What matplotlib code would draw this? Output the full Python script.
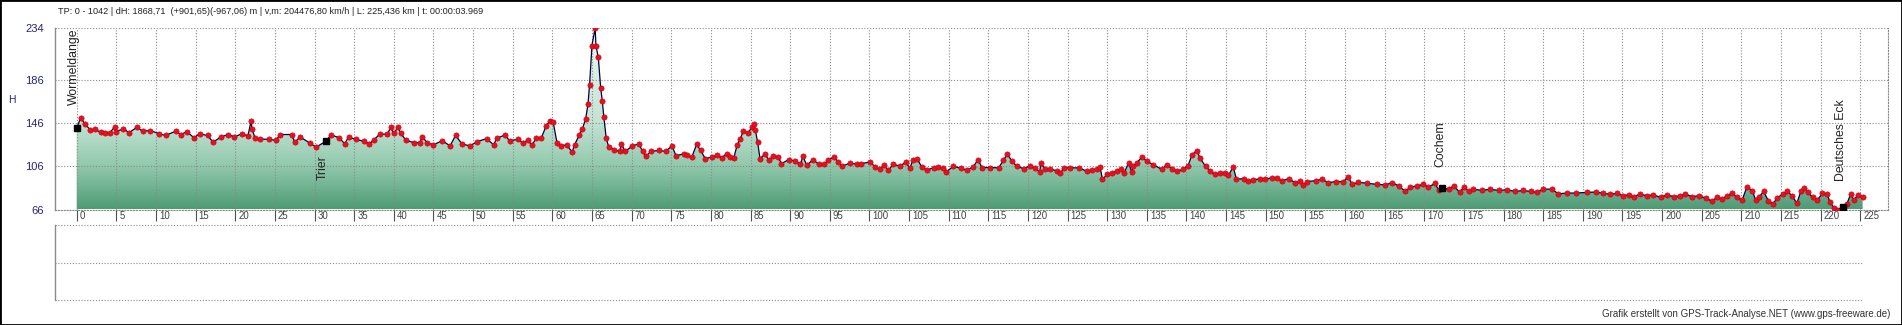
import numpy as np
import matplotlib
matplotlib.use("Agg")
import matplotlib.pyplot as plt
from matplotlib.colors import LinearSegmentedColormap
from matplotlib.patches import Polygon, Rectangle
import matplotlib.transforms as mtrans

plt.rcParams['font.family'] = ['Liberation Sans', 'DejaVu Sans']

km = [0, 0.5, 1.06, 1.7, 2.3, 3.0, 3.6, 4.2, 4.8, 4.9, 5.9, 6.6, 7.6, 8.3, 9.3, 10.4, 11.2, 12.5, 13.1, 13.9,
      14.8, 15.5, 16.5, 17.2, 18.2, 19.1, 19.9, 20.8, 21.6, 22.0, 22.1, 22.5, 23.1, 24.2, 25.2, 25.6, 27.1, 27.5,
      28.2, 29.4, 30.2, 31.4, 32.1, 33.1, 33.8, 34.3, 35.2, 36.2, 36.9, 37.5, 38.2, 39.2, 39.6, 40.0, 40.5, 40.9,
      41.5, 42.5, 43.3, 43.6, 44.2, 45.0, 46.1, 47.1, 47.8, 48.6, 49.6, 50.5, 51.7, 52.6, 53.0, 54.0, 54.6, 55.7,
      56.3, 56.9, 57.4, 58.0, 58.6, 59.2, 59.7, 60.1, 60.6, 61.1, 61.8, 62.5, 62.8, 63.4, 63.8, 64.2, 64.5, 64.7,
      65.0, 65.4, 65.5, 65.8, 66.1, 66.3, 66.5, 66.8, 67.1, 67.8, 68.5, 68.7, 69.2, 70.1, 70.9, 71.4, 71.8, 72.4,
      73.5, 74.3, 75.1, 75.6, 76.6, 77.0, 77.6, 78.2, 78.7, 79.3, 80.1, 80.8, 81.4, 82.0, 82.4, 82.9, 83.3, 83.7,
      84.1, 84.7, 85.2, 85.4, 85.6, 85.9, 86.2, 86.8, 87.3, 87.9, 88.5, 88.9, 89.8, 90.6, 91.3, 91.6, 92.1, 92.9,
      93.6, 94.3, 94.8, 95.5, 96.1, 96.5, 97.6, 98.4, 99.0, 100.1, 100.7, 101.3, 101.8, 102.4, 103.0, 103.9, 104.6,
      105.1, 105.5, 106.0, 106.6, 107.3, 108.1, 108.7, 109.3, 109.7, 110.6, 111.6, 112.3, 113.1, 113.7, 114.2,
      115.2, 116.3, 116.9, 117.4, 118.0, 118.6, 119.5, 120.3, 120.9, 121.5, 121.6, 122.2, 122.8, 123.7, 124.1,
      124.5, 125.3, 126.4, 127.4, 128.1, 128.7, 129.1, 129.4, 130.0, 130.6, 131.2, 131.8, 132.1, 132.7, 133.1,
      133.3, 133.7, 134.4, 135.0, 135.8, 136.9, 137.5, 138.2, 138.8, 139.6, 140.2, 140.7, 141.3, 141.7, 142.4,
      143.0, 143.6, 144.2, 144.9, 145.3, 145.9, 146.3, 147.2, 147.8, 148.4, 149.3, 149.9, 150.8, 151.4, 152.0,
      152.9, 153.7, 154.3, 154.7, 155.2, 156.3, 157.1, 157.9, 158.8, 159.8, 160.4, 160.9, 161.7, 162.8, 164.0,
      165.1, 165.9, 166.8, 167.6, 168.2, 169.1, 169.9, 170.5, 171.4, 171.8, 172.2, 173.1, 173.7, 174.5, 175.0,
      175.6, 176.2, 177.3, 178.3, 179.4, 180.4, 181.5, 182.5, 183.4, 184.2, 185.0, 186.1, 186.9, 188.0, 189.2,
      190.5, 191.7, 192.6, 193.4, 194.3, 195.1, 195.8, 196.4, 197.2, 198.1, 198.9, 199.8, 200.6, 201.5, 202.3,
      202.9, 203.8, 204.6, 205.5, 206.3, 206.9, 207.6, 208.2, 208.8, 209.5, 210.1, 210.7, 211.4, 211.8, 212.2,
      212.8, 213.4, 214.0, 214.5, 215.2, 215.8, 216.4, 217.0, 217.5, 217.9, 218.4, 219.0, 219.6, 220.2, 220.8,
      221.2, 221.7, 222.1, 222.8, 223.3, 223.8, 224.2, 224.7, 225.3]
hoehe = [141.4, 150.6, 145, 139.6, 140, 137.5, 136.5, 137, 142.6, 138, 140.5, 137, 142, 138.4, 139, 136, 134.4, 138.4,
         135.3, 137.8, 132.3, 136, 134.4, 128.3, 133, 135.3, 133, 136, 134, 148, 140.5, 132, 131.3, 130.7, 130, 135.3,
         135.3, 128.3, 133, 127.4, 123.7, 128.9, 135, 132.3, 126.8, 133, 130.7, 129.2, 126.8, 130.4, 135.5, 135.7,
         141.8, 136.3, 141.8, 136.3, 130.2, 127.8, 127.9, 133.3, 127.8, 125.7, 129.6, 124.8, 134.5, 126.6, 124.8,
         128.7, 131.5, 125.8, 131.8, 134.8, 129.6, 130.8, 127.2, 130.2, 125.7, 131.8, 131.8, 143, 147.8, 146.9, 127.2,
         124.8, 125.8, 119, 125.8, 134.8, 140.8, 149.6, 163.4, 181.5, 217.5, 234, 217.5, 206.5, 178.5, 166.4, 151.4,
         131.8, 124.2, 121.2, 119.7, 126.3, 119.7, 124.8, 126.6, 119.7, 115, 119.7, 120.6, 119.7, 124.8, 115.7, 117.5,
         116, 114.5, 126.2, 120.7, 113, 114.5, 116, 114, 117.6, 114.5, 114, 125.2, 131.3, 138.4, 136.5, 142.6, 145,
         139.6, 128.3, 113, 117, 112.1, 115.2, 114.5, 108.4, 112.1, 110.9, 107.8, 115.2, 106.9, 112.1, 107.8, 107.8,
         111.5, 114.5, 110, 106, 109, 107.8, 108.4, 110, 105.4, 103, 106.9, 102.3, 107.8, 106, 110, 103.9, 112.1, 113,
         105.4, 102.3, 104.8, 105.4, 103.9, 100.8, 106, 103.9, 102.3, 105.4, 112.1, 104.8, 104.8, 104.5, 111.5, 117.2,
         110.5, 106, 103.6, 106.6, 104.5, 100.5, 109, 103, 103.6, 101.5, 99.3, 104.5, 104.5, 104.5, 101.5, 102.4, 103,
         105.4, 94, 98.4, 100, 101.5, 103.6, 99.3, 109, 100.5, 106, 109, 114.5, 110.5, 107.5, 103, 107.5, 103.6, 101.5,
         103, 106.6, 116.6, 120.5, 113.6, 106, 101.5, 98.4, 99.3, 100, 97.5, 105.4, 94, 94.5, 92.4, 93.3, 94.5, 94,
         95.4, 95.4, 92.4, 94.5, 90.8, 92.4, 88.4, 91.8, 92.7, 93.9, 90.8, 91.8, 91.8, 96.3, 89.3, 91.2, 90.2, 89.3,
         88.7, 90.8, 87.8, 82.7, 86.6, 87.8, 89.3, 86.6, 90.2, 83.6, 85.7, 84.8, 87.8, 81.8, 87.2, 82.7, 84.8, 83.6,
         84.8, 83.6, 84.2, 82.7, 83.6, 82.7, 81.8, 84.8, 84.8, 80.5, 81.2, 81.2, 81.8, 82.2, 80.8, 80.2, 80.8, 78.7,
         79.6, 77.8, 80.2, 78.7, 79.6, 77.2, 79.6, 77.8, 78.7, 80.2, 77.8, 78.7, 76.6, 73.6, 77.2, 75.7, 78.7, 80.8,
         77.2, 74.8, 86.9, 83.3, 74.8, 77.2, 82.7, 74.2, 71.2, 76.6, 80.2, 82.7, 78.7, 71.8, 82.7, 86.3, 81.8, 77.2,
         74.8, 80.8, 80.2, 72.7, 67.5, 65.7, 68.7, 71.2, 80.2, 74.8, 79.6, 77.8]

orte = ["Wormeldange", "Trier", "Cochem", "Deutsches Eck"]
orte_km = [0, 31.4, 172.2, 222.8]
orte_h = [141.4, 128.9, 85.7, 68.7]

y_ticks = [66, 106, 146, 186, 234]
x_ticks = list(range(0, 226, 5))

titel = "TP: 0 - 1042 | dH: 1868,71  (+901,65)(-967,06) m | v,m: 204476,80 km/h | L: 225,436 km | t: 00:00:03.969"
credit = "Grafik erstellt von GPS-Track-Analyse.NET (www.gps-freeware.de)"

W, H = 1902, 325
navy = '#23237a'
grau = '#8a8a8a'
dots = (0, (1, 1.6))

fig = plt.figure(figsize=(W / 100, H / 100), dpi=100)
fig.patch.set_facecolor('white')

# --- Hoehenprofil ---
ax = fig.add_axes([55 / W, (H - 209.5) / H, (1888 - 55) / W, (209.5 - 27.7) / H])
ax.set_xlim(-2.74, 228.5)
ax.set_ylim(66, 234)

cmap = LinearSegmentedColormap.from_list('gr', [(0, '#4e9c75'), (40 / 168, '#92c9ad'),
                                                (80 / 168, '#c3e3d3'), (1, '#eef8f3')])
grad = np.linspace(0, 1, 256).reshape(-1, 1)
verts = np.vstack([[km[0], 66], np.column_stack([km, hoehe]), [km[-1], 66]])
flaeche = Polygon(verts, closed=True, facecolor='none', edgecolor='none')
ax.add_patch(flaeche)
im = ax.imshow(grad, extent=[-2.74, 228.5, 66, 234], aspect='auto', cmap=cmap,
               origin='lower', zorder=1, interpolation='bicubic')
im.set_clip_path(flaeche)

ax.plot(km, hoehe, color='#00003c', lw=0.9, zorder=3)
ax.plot(km, hoehe, ls='none', marker='o', ms=3.8, mfc='#e8101e', mec='#c0000f', mew=0.4, zorder=4)
ax.plot(orte_km, orte_h, ls='none', marker='s', ms=5, color='black', zorder=5)

# Ortsnamen (Oberkante in Datenkoordinaten)
name_x = [-0.3, 31.1, 172.0, 222.6]
name_top = [233, 116.4, 148, 168]
for n, x, y in zip(orte, name_x, name_top):
    ax.text(x, y, n, rotation=90, ha='center', va='top', fontsize=8.8, color='#222222', zorder=6)

ax.set_xticks(x_ticks)
ax.set_yticks(y_ticks)
ax.set_xticklabels([str(t) for t in x_ticks])
ax.set_axisbelow(False)
ax.grid(True, color=grau, ls=dots, lw=0.8)
for s in ['top', 'right', 'bottom']:
    ax.spines[s].set_color(grau)
    ax.spines[s].set_linestyle(dots)
    ax.spines[s].set_linewidth(0.8)
ax.spines['top'].set_visible(False)
ax.spines['left'].set_color(grau)
ax.spines['left'].set_linewidth(1.0)

ax.tick_params(axis='x', direction='out', length=8, width=0.8, color='#505050',
               labelsize=6.9, labelcolor='#404040', pad=-7)
off = mtrans.ScaledTranslation(3 / 100, 0, fig.dpi_scale_trans)
for lab in ax.get_xticklabels():
    lab.set_horizontalalignment('left')
    lab.set_transform(lab.get_transform() + off)
ax.tick_params(axis='y', length=0, pad=8, labelsize=8, labelcolor=navy)

# --- leeres unteres Feld ---
ax2 = fig.add_axes([55 / W, 25 / H, 1807 / W, 75 / H])
ax2.set_xlim(0, 1)
ax2.set_ylim(0, 2)
ax2.set_xticks([])
ax2.set_yticks([])
for y in [0, 1, 2]:
    ax2.axhline(y, color=grau, ls=dots, lw=0.8, clip_on=False)
for s in ['top', 'right', 'bottom']:
    ax2.spines[s].set_visible(False)
ax2.spines['left'].set_color(grau)
ax2.spines['left'].set_linewidth(1.0)

# --- Texte ---
fig.text(8 / W, 1 - 100 / H, 'H', color=navy, fontsize=7.5, va='center')
fig.text(58 / W, 1 - 12 / H, titel, fontsize=6.6, va='center', color='#222222')
fig.text(1890 / W, 1 - 314 / H, credit, ha='right', va='center', fontsize=7.0, color='#333333')

fig.add_artist(Rectangle((0, 0), 1, 1, transform=fig.transFigure, fill=False, ec='black', lw=2))

fig.savefig('out.png', dpi=100)
